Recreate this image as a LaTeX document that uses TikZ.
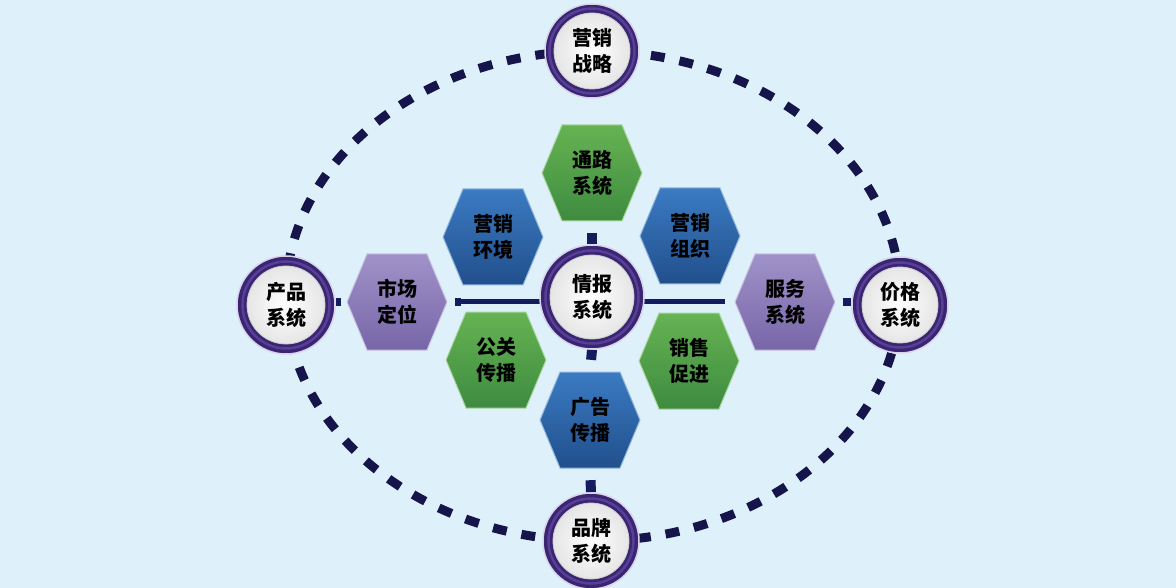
\documentclass[tikz,border=0pt]{standalone}
\usepackage{fontspec}
\newfontfamily\cjk{Noto Sans CJK SC}
\usetikzlibrary{backgrounds}
\definecolor{bgc}{HTML}{DEF1FA}
\definecolor{dashc}{HTML}{15154B}
\definecolor{barc}{HTML}{141B5E}
\definecolor{ringc}{HTML}{3A2474}
\definecolor{ringl}{HTML}{6B52A8}
\definecolor{gtop}{HTML}{66B353}
\definecolor{gbot}{HTML}{3E8B40}
\definecolor{btop}{HTML}{3B7BC2}
\definecolor{bbot}{HTML}{214F8C}
\definecolor{ptop}{HTML}{A092C9}
\definecolor{pbot}{HTML}{7766A8}
\tikzset{
  lbl/.style={font=\cjk\bfseries\fontsize{20}{26}\selectfont, align=center, text=black},
  hexbox/.style={lbl, minimum width=100pt, minimum height=96pt, inner sep=0pt},
  ringnode/.style 2 args={circle, lbl, inner sep=0pt, minimum size=#1,
    fill=ringc, draw=white!75!ringl, line width=1.5pt,
    path picture={
      \draw[ringl, line width=2.5pt, opacity=.6] (path picture bounding box.center) circle (#2+4.5pt);
      \shade[inner color=white, outer color=black!10] (path picture bounding box.center) circle (#2);
      \draw[black!20, line width=0.8pt] (path picture bounding box.center) circle (#2);
    }},
  barline/.style={barc, line width=5pt},
  stub/.style={barc, line width=10pt},
  ovaldash/.style={dashc, line width=9pt, dash pattern=on 14pt off 15pt}
}
\newcommand\myhex[5]{%
  \shade[top color=#4top, bottom color=#4bot, draw=white!45!#4top, line width=1pt]
    (#2-50,#3) -- (#2-30,#3-48) -- (#2+30,#3-48) -- (#2+50,#3) -- (#2+30,#3+48) -- (#2-30,#3+48) -- cycle;
  \node[hexbox] (#1) at (#2,#3) {#5};}
\begin{document}
\begin{tikzpicture}[x=1pt, y=-1pt]
\useasboundingbox (0,0) rectangle (1176,588);
% hexagons
\myhex{tl}{592}{173}{g}{通路\\系统}
\myhex{yh}{493}{237}{b}{营销\\环境}
\myhex{zz}{690}{236}{b}{营销\\组织}
\myhex{gg}{496}{360}{g}{公关\\传播}
\myhex{cx}{689}{361}{g}{销售\\促进}
\myhex{gc}{590}{420}{b}{广告\\传播}
\myhex{sc}{397}{302}{p}{市场\\定位}
\myhex{fw}{785}{302}{p}{服务\\系统}
% circles
\node[ringnode={94pt}{38pt}] (zl) at (592,51) {营销\\战略};
\node[ringnode={98pt}{39pt}] (cp) at (286,305) {产品\\系统};
\node[ringnode={96pt}{38pt}] (jg) at (900,305) {价格\\系统};
\node[ringnode={96pt}{38pt}] (pp) at (591,541) {品牌\\系统};
\node[ringnode={104pt}{42pt}] (qb) at (592,297) {情报\\系统};
\begin{pgfonlayer}{background}
  \fill[bgc] (0,0) rectangle (1176,588);
  \draw[ovaldash] (593,296) ellipse [x radius=307, y radius=245];
  \draw[barline, shorten <=8pt] (sc.east) -- (qb.center |- sc.east);
  \draw[barline, shorten >=10pt] (qb.center |- fw.west) -- (fw.west);
  \draw[barc, line width=8pt] ([xshift=8pt]sc.east) -- ++(6,0);
  \draw[stub, shorten >=12pt] (qb.north) -- (tl.south);
  \draw[stub, shorten >=12pt] (qb.south) -- (gc.north);
  \draw[stub, shorten >=12pt] (pp.north) -- (gc.south);
  \draw[barc, line width=8pt, shorten >=6pt] (cp.east |- sc.west) -- (sc.west);
  \draw[barc, line width=8pt, shorten >=8pt] (jg.west |- fw.east) -- (fw.east);
\end{pgfonlayer}
\end{tikzpicture}
\end{document}
